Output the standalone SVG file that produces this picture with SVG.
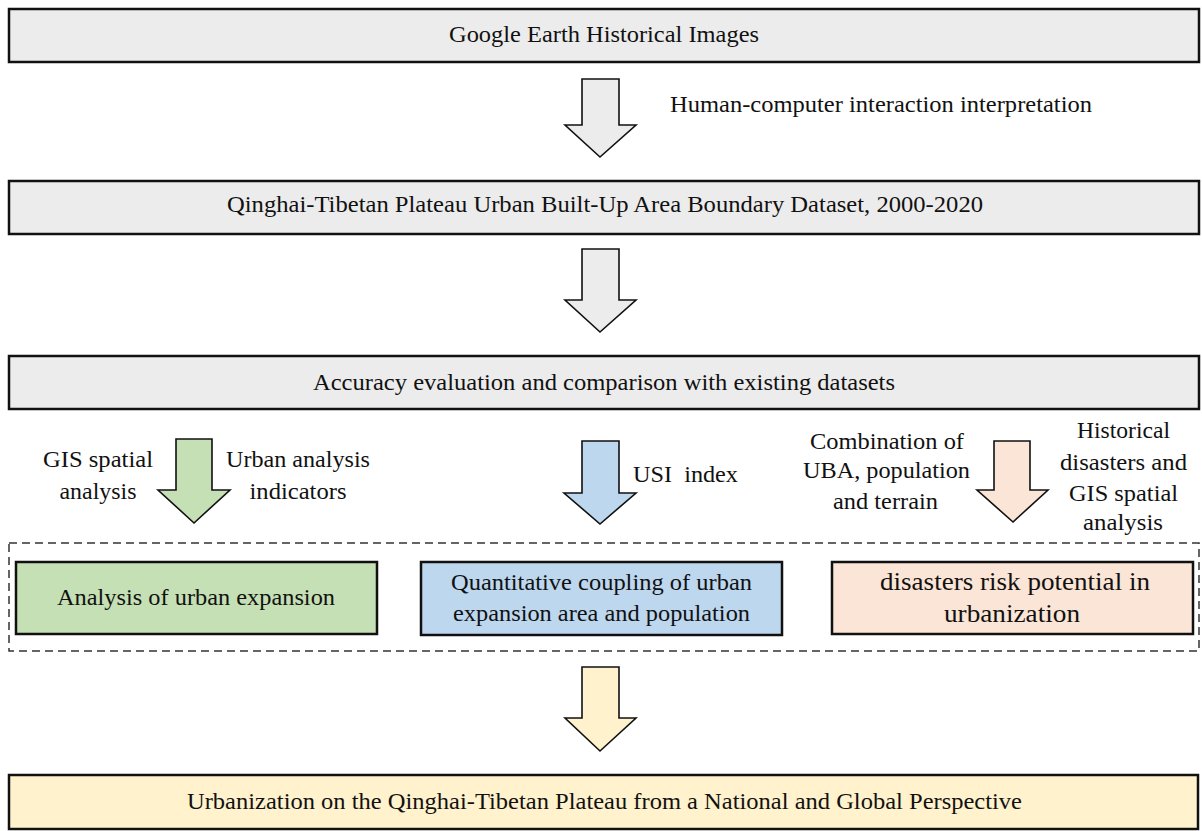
<svg xmlns="http://www.w3.org/2000/svg" width="1202" height="831" viewBox="0 0 1202 831">
<style>
.box{stroke:#111;stroke-width:2.5}
.arr{stroke:#111;stroke-width:1.6;stroke-linejoin:miter}
.t{font-family:"Liberation Serif","Times New Roman",serif;font-size:23px;fill:#111;text-anchor:middle}
.tl{font-size:25.5px}
.gray{fill:#ececec}
.green{fill:#c5e0b4}
.blue{fill:#bdd7ee}
.orange{fill:#fbe5d6}
.yellow{fill:#fff2cc}
</style>
<rect width="1202" height="831" fill="#fff"/>
<g id="connectors">
<polygon id="arrow1" class="arr gray" points="582,79 619,79 619,125 636,125 600,157 565,125 582,125"/>
<polygon id="arrow2" class="arr gray" points="582,249 619,249 619,300 636,300 600,332 565,300 582,300"/>
<polygon id="arrow-green" class="arr green" points="176,439 212,439 212,490 230,490 194,523 158,490 176,490"/>
<polygon id="arrow-blue" class="arr blue" points="582,441 619,441 619,493 636,493 600,524 564,493 582,493"/>
<polygon id="arrow-orange" class="arr orange" points="994,441 1030,441 1030,490 1048,490 1013,522 977,490 994,490"/>
<polygon id="arrow-yellow" class="arr yellow" points="582,667 619,667 619,718 636,718 600,751 565,718 582,718"/>
<text class="t" x="881" y="112" textLength="422" lengthAdjust="spacingAndGlyphs">Human-computer interaction interpretation</text>
<text class="t" x="98" y="467" textLength="110" lengthAdjust="spacingAndGlyphs">GIS spatial</text>
<text class="t" x="98" y="499" textLength="77" lengthAdjust="spacingAndGlyphs">analysis</text>
<text class="t" x="298" y="467" textLength="144" lengthAdjust="spacingAndGlyphs">Urban analysis</text>
<text class="t" x="298" y="499" textLength="97" lengthAdjust="spacingAndGlyphs">indicators</text>
<text class="t" x="685.5" y="482" textLength="105" lengthAdjust="spacingAndGlyphs" xml:space="preserve">USI  index</text>
<text class="t" x="887" y="449" textLength="154" lengthAdjust="spacingAndGlyphs">Combination of</text>
<text class="t" x="886.5" y="478" textLength="167" lengthAdjust="spacingAndGlyphs">UBA, population</text>
<text class="t" x="885.5" y="509" textLength="105" lengthAdjust="spacingAndGlyphs">and terrain</text>
<text class="t" x="1123.5" y="438" textLength="93" lengthAdjust="spacingAndGlyphs">Historical</text>
<text class="t" x="1123.5" y="470" textLength="127" lengthAdjust="spacingAndGlyphs">disasters and</text>
<text class="t" x="1123.5" y="501" textLength="109" lengthAdjust="spacingAndGlyphs">GIS spatial</text>
<text class="t" x="1123" y="530" textLength="80" lengthAdjust="spacingAndGlyphs">analysis</text>
</g>
<g id="node-google">
<rect class="box gray" x="9" y="9" width="1190" height="53"/>
<text class="t" x="604" y="42" textLength="310" lengthAdjust="spacingAndGlyphs">Google Earth Historical Images</text>
</g>
<g id="node-dataset">
<rect class="box gray" x="9" y="181" width="1190" height="53"/>
<text class="t" x="605" y="212" textLength="756" lengthAdjust="spacingAndGlyphs">Qinghai-Tibetan Plateau Urban Built-Up Area Boundary Dataset, 2000-2020</text>
</g>
<g id="node-accuracy">
<rect class="box gray" x="9" y="356" width="1190" height="53"/>
<text class="t" x="604" y="390" textLength="582" lengthAdjust="spacingAndGlyphs">Accuracy evaluation and comparison with existing datasets</text>
</g>
<g id="group-analyses">
<rect x="9" y="543" width="1190" height="108" fill="none" stroke="#333" stroke-width="1.5" stroke-dasharray="8 5"/>
</g>
<g id="node-expansion">
<rect class="box green" x="16" y="562" width="361" height="72"/>
<text class="t" x="196" y="605" textLength="278" lengthAdjust="spacingAndGlyphs">Analysis of urban expansion</text>
</g>
<g id="node-coupling">
<rect class="box blue" x="421" y="562" width="361" height="73"/>
<text class="t" x="601.5" y="590" textLength="301" lengthAdjust="spacingAndGlyphs">Quantitative coupling of urban</text>
<text class="t" x="601.5" y="621" textLength="297" lengthAdjust="spacingAndGlyphs">expansion area and population</text>
</g>
<g id="node-risk">
<rect class="box orange" x="832" y="562" width="361" height="72"/>
<text class="t tl" x="1015" y="590" textLength="270" lengthAdjust="spacingAndGlyphs">disasters risk potential in</text>
<text class="t tl" x="1012" y="622" textLength="136" lengthAdjust="spacingAndGlyphs">urbanization</text>
</g>
<g id="node-urbanization">
<rect class="box yellow" x="9" y="775" width="1189" height="54"/>
<text class="t" x="604.5" y="809" textLength="835" lengthAdjust="spacingAndGlyphs">Urbanization on the Qinghai-Tibetan Plateau from a National and Global Perspective</text>
</g>
</svg>
